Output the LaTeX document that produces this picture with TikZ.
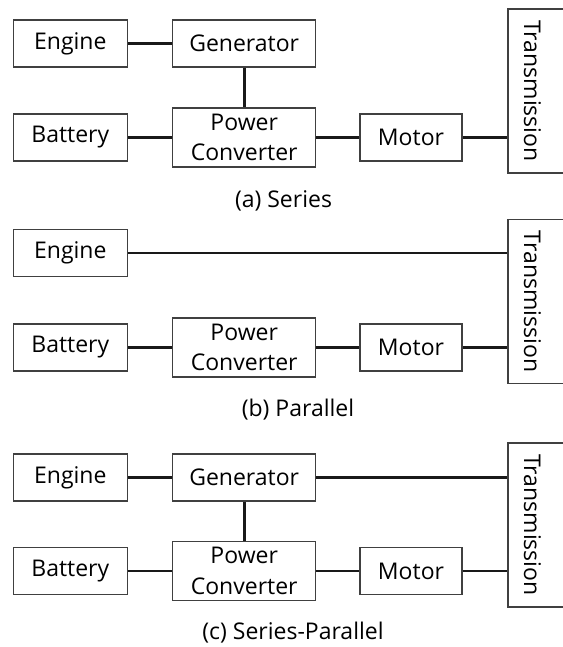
\documentclass[tikz,border=0pt]{standalone}
\usepackage{fontspec}
\setmainfont{Open Sans}
\begin{document}
\begin{tikzpicture}[
    x=0.5pt, y=-0.5pt,
    box/.style={draw=black!75, line width=0.65pt, inner sep=0pt, font=\fontsize{11.5}{15.3}\selectfont, align=center},
    srcbox/.style={box, minimum width=57pt, minimum height=23.5pt},
    genbox/.style={box, minimum width=71.5pt, minimum height=23.5pt},
    convbox/.style={box, minimum width=71.5pt, minimum height=29.5pt},
    motbox/.style={box, minimum width=51pt, minimum height=23.5pt},
    transbox/.style={box, rotate=-90, minimum width=82pt, text height=21pt, text depth=8pt},
    link/.style={draw=black!90, line width=1.3pt},
    caption/.style={font=\fontsize{11.5}{14}\selectfont}
]
    \useasboundingbox (0,0) rectangle (562,647);

    % (a) series
    \node[srcbox] (engA) at (70.3, 43.5) {Engine};
    \node[genbox] (genA) at (244.2, 43.5) {Generator};
    \node[srcbox] (batA) at (70.3, 137.5) {Battery};
    \node[convbox] (pcA) at (244.2, 137.5) {Power\\Converter};
    \node[motbox] (motA) at (411, 137.5) {Motor};
    \node[transbox] (trA) at (537, 91) {Transmission};
    \node[caption] (capA) at (283.5, 200.5) {(a) Series};

    \draw[link] (engA) -- (genA);
    \draw[link] (genA) -- (pcA);
    \draw[link] (batA) -- (pcA);
    \draw[link] (pcA) -- (motA);
    \draw[link] (motA) -- (motA -| trA.south);

    % (b) parallel
    \node[srcbox] (engB) at (70.3, 253) {Engine};
    \node[srcbox] (batB) at (70.3, 347.5) {Battery};
    \node[convbox] (pcB) at (244.2, 347.5) {Power\\Converter};
    \node[motbox] (motB) at (411, 347.5) {Motor};
    \node[transbox] (trB) at (537, 301.5) {Transmission};
    \node[caption] (capB) at (298, 409.5) {(b) Parallel};

    \draw[link] (engB) -- (engB -| trB.south);
    \draw[link] (batB) -- (pcB);
    \draw[link] (pcB) -- (motB);
    \draw[link] (motB) -- (motB -| trB.south);

    % (c) series-parallel
    \node[srcbox] (engC) at (70.3, 477.5) {Engine};
    \node[genbox] (genC) at (244.2, 477.5) {Generator};
    \node[srcbox] (batC) at (70.3, 571) {Battery};
    \node[convbox] (pcC) at (244.2, 571) {Power\\Converter};
    \node[motbox] (motC) at (411, 571) {Motor};
    \node[transbox] (trC) at (537, 525) {Transmission};
    \node[caption] (capC) at (293, 633) {(c) Series-Parallel};

    \draw[link] (engC) -- (genC);
    \draw[link] (genC) -- (genC -| trC.south);
    \draw[link] (genC) -- (pcC);
    \draw[link] (batC) -- (pcC);
    \draw[link] (pcC) -- (motC);
    \draw[link] (motC) -- (motC -| trC.south);
\end{tikzpicture}
\end{document}
